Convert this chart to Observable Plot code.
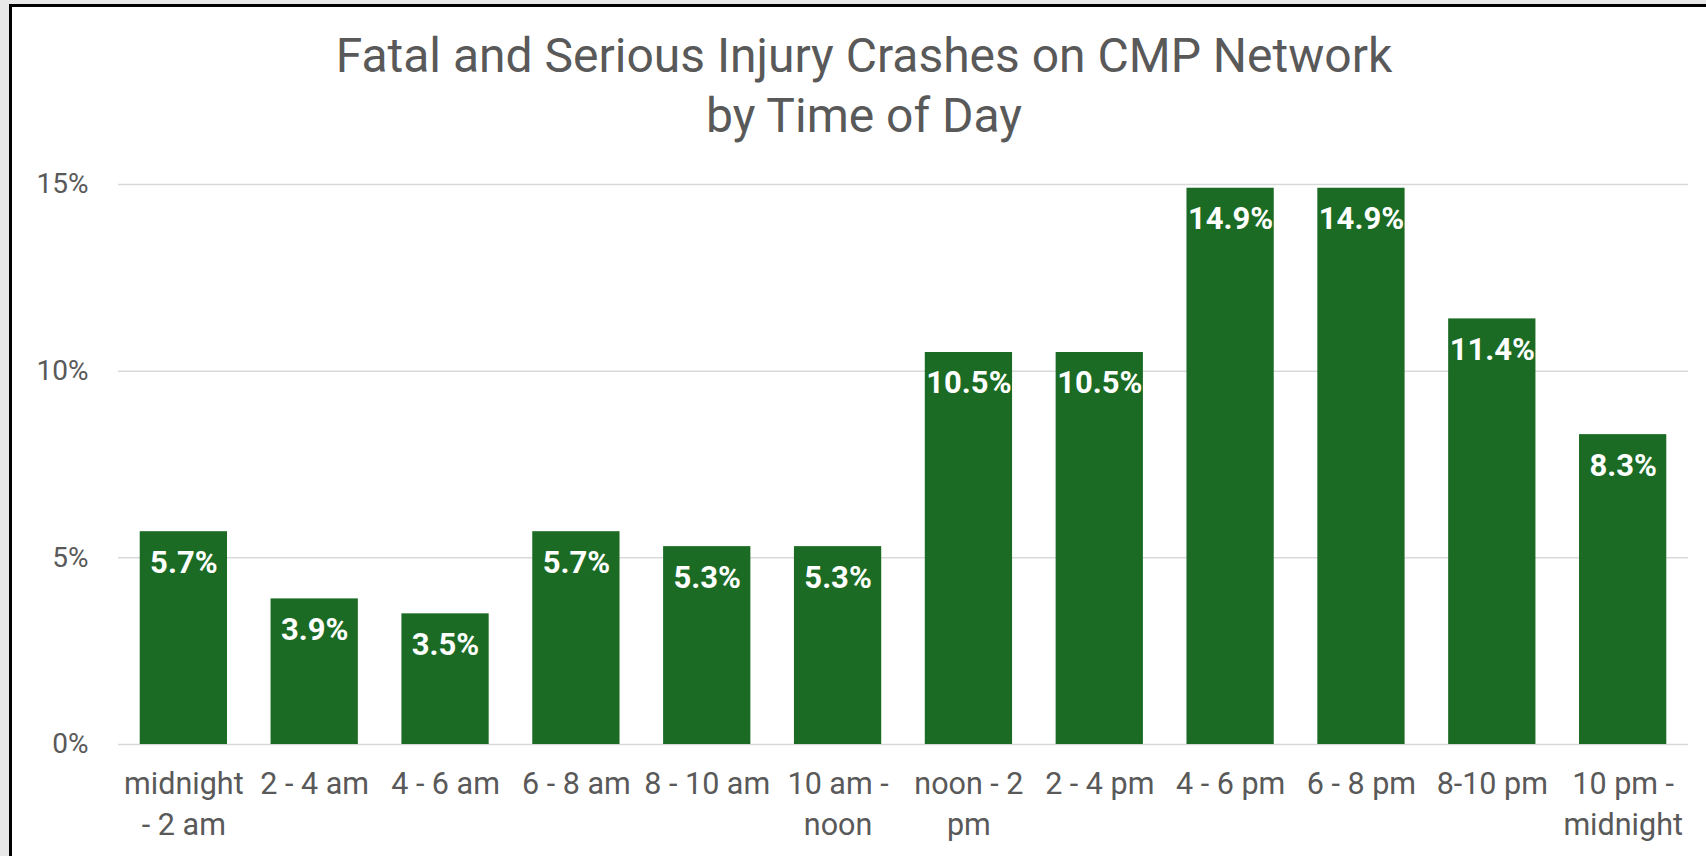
<!DOCTYPE html>
<html>
<head>
<meta charset="utf-8">
<script src="https://cdn.jsdelivr.net/npm/d3@7"></script>
<script src="https://cdn.jsdelivr.net/npm/@observablehq/plot@0.6"></script>
<style>
  html, body { margin: 0; padding: 0; width: 1706px; height: 856px; overflow: hidden; background: #e8e8e8; }
  #frame { position: absolute; left: 9px; top: 4px; width: 1710px; height: 900px; border: 3px solid #000; background: #fff; }
  #title { position: absolute; left: 0; width: 1728px; top: 26px; text-align: center; font-family: Roboto, "Noto Sans", sans-serif; font-size: 48px; line-height: 60px; color: #595959; }
  #chart { position: absolute; left: 0; top: 137px; }
</style>
</head>
<body>
<div id="frame"></div>
<div id="title">Fatal and Serious Injury Crashes on CMP Network<br>by Time of Day</div>
<div id="chart"></div>
<script>
const categories = ["midnight - 2 am", "2 - 4 am", "4 - 6 am", "6 - 8 am", "8 - 10 am", "10 am - noon",
  "noon - 2 pm", "2 - 4 pm", "4 - 6 pm", "6 - 8 pm", "8-10 pm", "10 pm - midnight"];
const tickLabels = ["midnight\n- 2 am", "2 - 4 am", "4 - 6 am", "6 - 8 am", "8 - 10 am", "10 am -\nnoon",
  "noon - 2\npm", "2 - 4 pm", "4 - 6 pm", "6 - 8 pm", "8-10 pm", "10 pm -\nmidnight"];
const values = [5.7, 3.9, 3.5, 5.7, 5.3, 5.3, 10.5, 10.5, 14.9, 14.9, 11.4, 8.3];
const yTicks = [0, 5, 10, 15];

const data = categories.map((c, i) => ({cat: c, value: values[i]}));
const labelOf = new Map(categories.map((c, i) => [c, tickLabels[i]]));

const chart = Plot.plot({
  width: 1706,
  height: 719,
  marginLeft: 118,
  marginRight: 18,
  marginTop: 47,
  marginBottom: 112,
  style: {fontFamily: "Roboto, 'Noto Sans', sans-serif", color: "#595959", background: "transparent", overflow: "visible"},
  x: {domain: categories, paddingInner: 0.333, paddingOuter: 0.166, align: 0.5, round: false},
  y: {domain: [0, 15]},
  marks: [
    Plot.gridY(yTicks, {stroke: "#d9d9d9", strokeOpacity: 1, strokeWidth: 1.5}),
    Plot.axisY(yTicks, {tickSize: 0, tickPadding: 30, fontSize: 28, fill: "#595959", tickFormat: d => d + "%", label: null}),
    Plot.axisX({tickSize: 0, tickPadding: 20, fontSize: 30.5, lineHeight: 1.35, fill: "#595959", tickFormat: d => labelOf.get(d), label: null}),
    Plot.barY(data, {x: "cat", y: "value", fill: "#1b6b24"}),
    Plot.text(data, {x: "cat", y: "value", text: d => d.value.toFixed(1) + "%", dy: 31, fill: "white", fontSize: 31, fontWeight: "bold"})
  ]
});
document.getElementById("chart").appendChild(chart);
</script>
</body>
</html>
